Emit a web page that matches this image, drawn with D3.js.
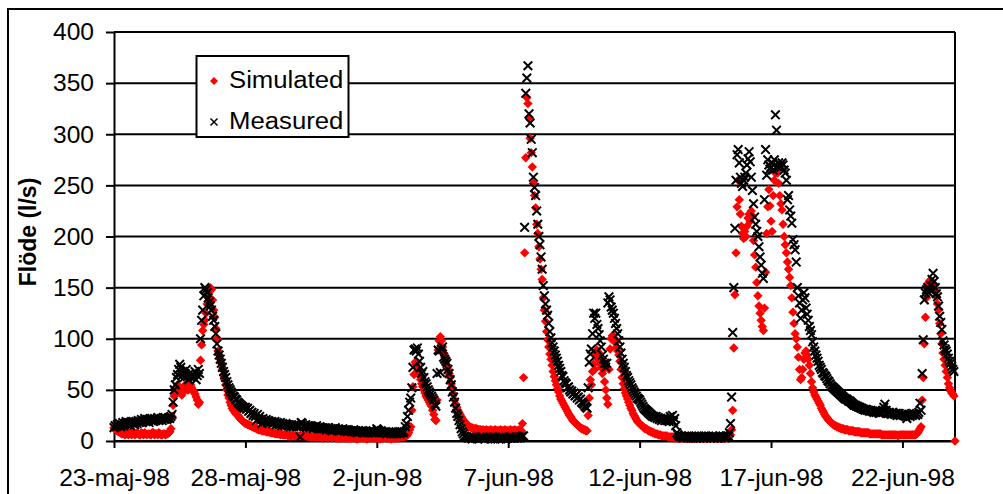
<!DOCTYPE html>
<html>
<head>
<meta charset="utf-8">
<script src="https://cdn.jsdelivr.net/npm/d3@7"></script>
<style>
  body { margin: 0; background: #fff; }
  svg { display: block; font-family: Arial, "Liberation Sans", sans-serif; }
</style>
</head>
<body>
<svg id="chart" width="1003" height="494"></svg>
<script>
// hourly values, starting 23-maj-98 00:00 (one line = one day)
var stepHours = 1;

var simulated = [
  13, 12, 11, 10, 9, 9, 8, 7, 7, 8, 6, 7, 8, 6, 7, 8, 6, 7, 8, 6, 7, 8, 7, 6,
  6, 8, 7, 6, 8, 7, 6, 7, 7, 6, 6, 8, 8, 6, 7, 7, 6, 8, 7, 6, 6, 7, 7, 6,
  7, 7, 8, 9, 12, 24, 35, 44, 48, 52, 55, 50, 50, 47, 45, 48, 52, 55, 53, 50, 50, 56, 55, 52,
  50, 48, 46, 43, 40, 36, 38, 79, 94, 108, 114, 118, 125, 134, 140, 146, 150, 148, 138, 128, 121, 110, 100, 88,
  84, 80, 76, 70, 64, 60, 55, 50, 45, 42, 38, 35, 32, 30, 29, 27, 26, 25, 24, 22, 21, 20, 19, 18,
  17, 17, 16, 16, 15, 15, 14, 14, 13, 13, 12, 12, 11, 11, 11, 10, 10, 10, 10, 9, 9, 9, 9, 8,
  8, 8, 8, 7, 7, 7, 7, 7, 6, 7, 6, 6, 6, 6, 6, 5, 6, 5, 5, 6, 5, 5, 5, 5,
  5, 5, 5, 5, 5, 4, 5, 5, 5, 4, 5, 4, 4, 4, 5, 4, 4, 4, 4, 4, 4, 4, 3, 4,
  4, 4, 4, 3, 4, 4, 4, 3, 4, 4, 4, 3, 4, 3, 3, 3, 3, 4, 3, 3, 3, 3, 3, 3,
  3, 3, 4, 3, 3, 3, 2, 3, 3, 3, 4, 3, 3, 3, 3, 2, 3, 3, 3, 3, 4, 3, 3, 3,
  3, 3, 3, 2, 3, 3, 3, 4, 3, 3, 3, 3, 3, 2, 3, 3, 3, 3, 3, 3, 3, 4, 4, 4,
  4, 4, 5, 5, 6, 8, 11, 14, 30, 53, 65, 77, 75, 72, 68, 64, 60, 56, 53, 50, 47, 44, 42, 40,
  38, 36, 34, 30, 26, 21, 20, 40, 89, 98, 102, 98, 92, 86, 82, 78, 74, 70, 66, 62, 56, 52, 46, 40,
  36, 33, 30, 28, 26, 24, 22, 20, 19, 18, 16, 15, 14, 14, 13, 13, 12, 12, 12, 12, 11, 11, 11, 11,
  10, 11, 10, 10, 11, 10, 10, 10, 11, 10, 10, 10, 11, 10, 10, 10, 10, 11, 10, 10, 10, 11, 10, 10,
  10, 10, 11, 10, 10, 10, 11, 10, 10, 10, 11, 10, 10, 17, 62, 184, 277, 336, 330, 316, 296, 282, 268, 252,
  240, 228, 212, 203, 190, 178, 168, 158, 140, 128, 117, 107, 99, 92, 85, 80, 74, 68, 63, 59, 55, 51, 48, 44,
  41, 39, 37, 35, 33, 31, 29, 27, 25, 24, 22, 20, 19, 18, 17, 16, 15, 14, 13, 12, 12, 11, 11, 10,
  10, 25, 42, 60, 55, 68, 75, 70, 85, 89, 80, 86, 75, 72, 66, 70, 58, 50, 42, 36, 70, 90, 100, 103,
  103, 100, 96, 92, 88, 84, 78, 70, 62, 56, 51, 47, 44, 41, 38, 35, 32, 30, 27, 25, 23, 21, 19, 18,
  17, 16, 15, 14, 13, 12, 12, 11, 10, 10, 9, 9, 8, 8, 7, 7, 7, 6, 6, 6, 5, 5, 5, 5,
  5, 5, 4, 4, 4, 4, 4, 4, 3, 4, 3, 3, 3, 3, 3, 3, 3, 3, 3, 3, 3, 3, 3, 3,
  3, 3, 3, 4, 3, 3, 3, 3, 3, 3, 4, 3, 3, 3, 3, 3, 3, 3, 4, 3, 3, 3, 3, 3,
  3, 3, 3, 3, 3, 3, 3, 3, 4, 4, 5, 6, 11, 30, 91, 143, 184, 229, 255, 236, 222, 210, 203, 198,
  205, 200, 210, 218, 222, 215, 225, 220, 196, 182, 170, 155, 142, 132, 125, 118, 112, 108, 130, 165, 203, 229, 246, 230,
  215, 205, 240, 255, 262, 265, 262, 252, 240, 232, 226, 212, 200, 192, 184, 175, 168, 160, 152, 140, 126, 115, 105, 100,
  92, 82, 70, 60, 62, 70, 80, 86, 88, 84, 80, 74, 66, 58, 52, 48, 45, 43, 41, 39, 37, 35, 32, 30,
  28, 26, 24, 23, 21, 20, 19, 18, 17, 16, 15, 15, 14, 14, 13, 13, 12, 12, 12, 11, 11, 11, 11, 10,
  10, 10, 10, 10, 9, 9, 9, 9, 9, 9, 8, 8, 8, 8, 8, 8, 8, 8, 7, 7, 7, 7, 7, 7,
  7, 7, 7, 7, 7, 6, 6, 6, 6, 6, 6, 6, 6, 6, 6, 6, 6, 6, 6, 6, 5, 6, 6, 6,
  6, 6, 6, 6, 6, 6, 6, 6, 6, 6, 6, 6, 6, 7, 8, 10, 12, 14, 40, 62, 95, 121, 140, 151,
  155, 157, 157, 155, 154, 150, 146, 141, 134, 128, 115, 105, 95, 86, 80, 74, 68, 62, 56, 52, 49, 47, 46, 44,
  0
];

var measured = [
  13, 15, 14, 16, 15, 17, 14, 16, 18, 15, 17, 19, 16, 18, 17, 15, 19, 17, 18, 16, 19, 17, 20, 18,
  19, 21, 18, 20, 22, 19, 21, 20, 18, 22, 20, 21, 19, 22, 20, 21, 23, 20, 21, 22, 20, 23, 21, 22,
  21, 22, 23, 22, 24, 26, 38, 50, 55, 62, 65, 70, 75, 72, 64, 68, 62, 66, 70, 63, 60, 66, 62, 64,
  65, 62, 68, 60, 64, 70, 66, 100, 118, 128, 142, 150, 148, 145, 140, 136, 132, 128, 122, 118, 112, 105, 95, 88,
  84, 80, 76, 72, 68, 65, 62, 58, 55, 52, 50, 48, 46, 44, 43, 41, 40, 38, 37, 36, 35, 34, 33, 32,
  33, 31, 32, 29, 30, 27, 28, 25, 27, 24, 20, 26, 22, 24, 21, 17, 22, 20, 19, 21, 18, 20, 19, 18,
  19, 17, 18, 19, 16, 18, 17, 16, 18, 15, 17, 16, 15, 17, 16, 15, 16, 14, 16, 15, 14, 16, 15, 14,
  15, 14, 4, 18, 17, 15, 14, 16, 13, 15, 14, 13, 15, 14, 12, 14, 13, 15, 13, 12, 14, 13, 12, 13,
  12, 13, 11, 12, 13, 11, 12, 10, 12, 11, 13, 11, 10, 12, 11, 10, 11, 12, 10, 11, 10, 9, 11, 10,
  10, 9, 10, 11, 9, 10, 8, 10, 9, 9, 10, 8, 9, 8, 10, 9, 8, 9, 10, 8, 9, 8, 9, 8,
  12, 11, 10, 9, 10, 9, 8, 9, 8, 7, 8, 9, 8, 7, 8, 9, 7, 8, 7, 8, 9, 7, 8, 9,
  8, 9, 14, 17, 24, 30, 38, 42, 52, 72, 89, 90, 88, 91, 85, 78, 72, 66, 68, 62, 58, 56, 53, 50,
  48, 46, 44, 42, 40, 36, 34, 66, 89, 88, 67, 90, 92, 82, 80, 78, 76, 70, 66, 60, 55, 48, 43, 38,
  32, 27, 24, 20, 16, 12, 9, 7, 5, 4, 4, 3, 3, 4, 3, 2, 3, 4, 3, 3, 2, 3, 4, 3,
  3, 4, 3, 2, 3, 4, 3, 3, 2, 3, 4, 3, 2, 3, 3, 4, 3, 2, 3, 4, 3, 3, 2, 3,
  3, 4, 3, 3, 4, 3, 3, 4, 3, 3, 4, 3, 4, 5, 5, 209, 340, 355, 367, 320, 311, 295, 282, 258,
  248, 240, 225, 212, 200, 192, 180, 168, 152, 142, 134, 128, 123, 115, 107, 101, 96, 92, 88, 84, 81, 78, 74, 71,
  68, 64, 63, 59, 57, 56, 52, 53, 50, 48, 49, 46, 47, 44, 45, 42, 43, 40, 41, 38, 37, 36, 34, 33,
  32, 52, 77, 85, 90, 105, 125, 120, 125, 114, 110, 104, 98, 92, 84, 80, 76, 72, 76, 135, 141, 138, 131, 128,
  125, 120, 115, 110, 105, 98, 92, 86, 80, 76, 72, 68, 64, 62, 59, 57, 55, 52, 50, 48, 46, 44, 42, 41,
  40, 38, 36, 34, 32, 31, 30, 29, 28, 27, 26, 25, 24, 24, 23, 24, 22, 23, 21, 22, 20, 21, 22, 20,
  21, 20, 22, 19, 24, 20, 25, 19, 22, 15, 8, 6, 5, 4, 5, 4, 3, 5, 4, 4, 3, 5, 4, 3,
  4, 3, 5, 4, 3, 4, 5, 3, 4, 4, 3, 5, 4, 3, 4, 5, 4, 3, 4, 5, 3, 4, 4, 3,
  4, 5, 3, 4, 5, 4, 3, 5, 4, 5, 8, 17, 43, 106, 150, 208, 255, 280, 285, 272, 258, 252, 249, 255,
  258, 262, 270, 276, 283, 273, 258, 245, 232, 219, 212, 205, 200, 190, 180, 172, 164, 159, 236, 285, 260, 275, 270, 266,
  268, 272, 265, 275, 319, 304, 268, 272, 270, 268, 272, 270, 265, 262, 255, 236, 240, 226, 220, 213, 197, 192, 187, 175,
  150, 142, 135, 120, 128, 138, 145, 140, 130, 124, 118, 112, 108, 104, 97, 92, 88, 84, 81, 78, 74, 72, 70, 67,
  66, 64, 63, 61, 59, 58, 56, 54, 53, 52, 51, 50, 49, 48, 47, 46, 45, 44, 43, 42, 41, 41, 40, 39,
  39, 38, 37, 36, 35, 35, 34, 34, 33, 33, 32, 32, 31, 31, 30, 31, 30, 30, 29, 30, 29, 29, 28, 29,
  28, 29, 28, 27, 29, 28, 30, 33, 36, 30, 28, 27, 28, 27, 26, 28, 27, 26, 27, 25, 26, 27, 25, 26,
  26, 25, 27, 24, 22, 25, 26, 24, 26, 25, 27, 26, 25, 27, 26, 28, 37, 30, 66, 99, 138, 145, 148, 150,
  145, 148, 152, 158, 164, 156, 150, 144, 141, 132, 122, 116, 109, 98, 94, 90, 88, 85, 81, 78, 76, 73, 70, 68
];

var yTicks = [0, 50, 100, 150, 200, 250, 300, 350, 400];
var xTickDays = [0, 5, 10, 15, 20, 25, 30];
var xTickLabels = ["23-maj-98", "28-maj-98", "2-jun-98", "7-jun-98", "12-jun-98", "17-jun-98", "22-jun-98"];
var seriesNames = ["Simulated", "Measured"];
var yTitle = "Flöde (l/s)";

var margin = { top: 32, bottom: 53, left: 114, right: 48 };
var width = 1003 - margin.left - margin.right;
var height = 494 - margin.top - margin.bottom;

var svg = d3.select("#chart");

// outer chart frame
svg.append("rect")
  .attr("x", 8).attr("y", 9)
  .attr("width", 1010).attr("height", 500)
  .attr("fill", "#fff").attr("stroke", "#000").attr("stroke-width", 2);

var xScale = d3.scaleLinear().domain([0, 32]).range([0, width]);
var yScale = d3.scaleLinear().domain([0, 400]).range([height, 0]);

var chart = svg.append("g")
  .attr("transform", "translate(" + margin.left + "," + margin.top + ")");

// gridlines
chart.append("g").selectAll("line").data(yTicks)
  .enter().append("line")
  .attr("x1", 0).attr("x2", width)
  .attr("y1", function (d) { return yScale(d); })
  .attr("y2", function (d) { return yScale(d); })
  .attr("stroke", "#000").attr("stroke-width", 2);

// right border of plot area
chart.append("line")
  .attr("x1", width).attr("x2", width)
  .attr("y1", 0).attr("y2", height)
  .attr("stroke", "#000").attr("stroke-width", 2);

// axes
var xAxis = chart.append("g")
  .attr("transform", "translate(0," + height + ")")
  .call(d3.axisBottom(xScale).tickValues(xTickDays).tickSize(7).tickSizeOuter(0)
    .tickFormat(function (d, i) { return xTickLabels[i]; }));
var yAxis = chart.append("g")
  .call(d3.axisLeft(yScale).tickValues(yTicks).tickSize(8).tickSizeOuter(0));

[xAxis, yAxis].forEach(function (a) {
  a.select(".domain").attr("stroke", "#000").attr("stroke-width", 2);
  a.selectAll(".tick line").attr("stroke", "#000").attr("stroke-width", 2);
  a.selectAll("text").attr("fill", "#000").attr("font-size", 23)
    .attr("font-family", "Arial, 'Liberation Sans', sans-serif");
});
xAxis.selectAll("text").attr("y", 45).attr("dy", 0).attr("transform", "scale(1.07,1)");
yAxis.selectAll("text").attr("x", -20 / 1.07).attr("dy", "0.34em").attr("transform", "scale(1.07,1)");

// y axis title
svg.append("text")
  .attr("transform", "translate(36,232) rotate(-90)")
  .attr("text-anchor", "middle")
  .attr("font-size", 23).attr("font-weight", "bold")
  .text(yTitle);

var diamond = "M0,-4.7L4.7,0L0,4.7L-4.7,0Z";
var cross = "M-4.3,-4.3L4.3,4.3M-4.3,4.3L4.3,-4.3";

function hourX(i) { return xScale(i * stepHours / 24); }

// simulated series
chart.append("g").selectAll("path").data(simulated)
  .enter().append("path")
  .attr("d", diamond)
  .attr("transform", function (d, i) { return "translate(" + hourX(i) + "," + yScale(d) + ")"; })
  .attr("fill", "#ff0000");

// measured series
chart.append("g").selectAll("path").data(measured)
  .enter().append("path")
  .attr("d", cross)
  .attr("transform", function (d, i) { return "translate(" + hourX(i) + "," + yScale(d) + ")"; })
  .attr("fill", "none").attr("stroke", "#000").attr("stroke-width", 2);

// legend
var legend = svg.append("g");
legend.append("rect")
  .attr("x", 196.5).attr("y", 56).attr("width", 152).attr("height", 81)
  .attr("fill", "#fff").attr("stroke", "#000").attr("stroke-width", 2);
legend.append("path").attr("d", "M0,-4L4,0L0,4L-4,0Z").attr("transform", "translate(214,81)").attr("fill", "#ff0000");
legend.append("path").attr("d", "M-3.5,-3.5L3.5,3.5M-3.5,3.5L3.5,-3.5").attr("transform", "translate(214,122)")
  .attr("fill", "none").attr("stroke", "#000").attr("stroke-width", 1.5);
legend.selectAll("text").data(seriesNames)
  .enter().append("text")
  .attr("transform", function (d, i) { return "translate(229," + (88 + i * 41) + ") scale(1.05,1)"; })
  .attr("font-size", 24.5)
  .text(function (d) { return d; });
</script>
</body>
</html>
